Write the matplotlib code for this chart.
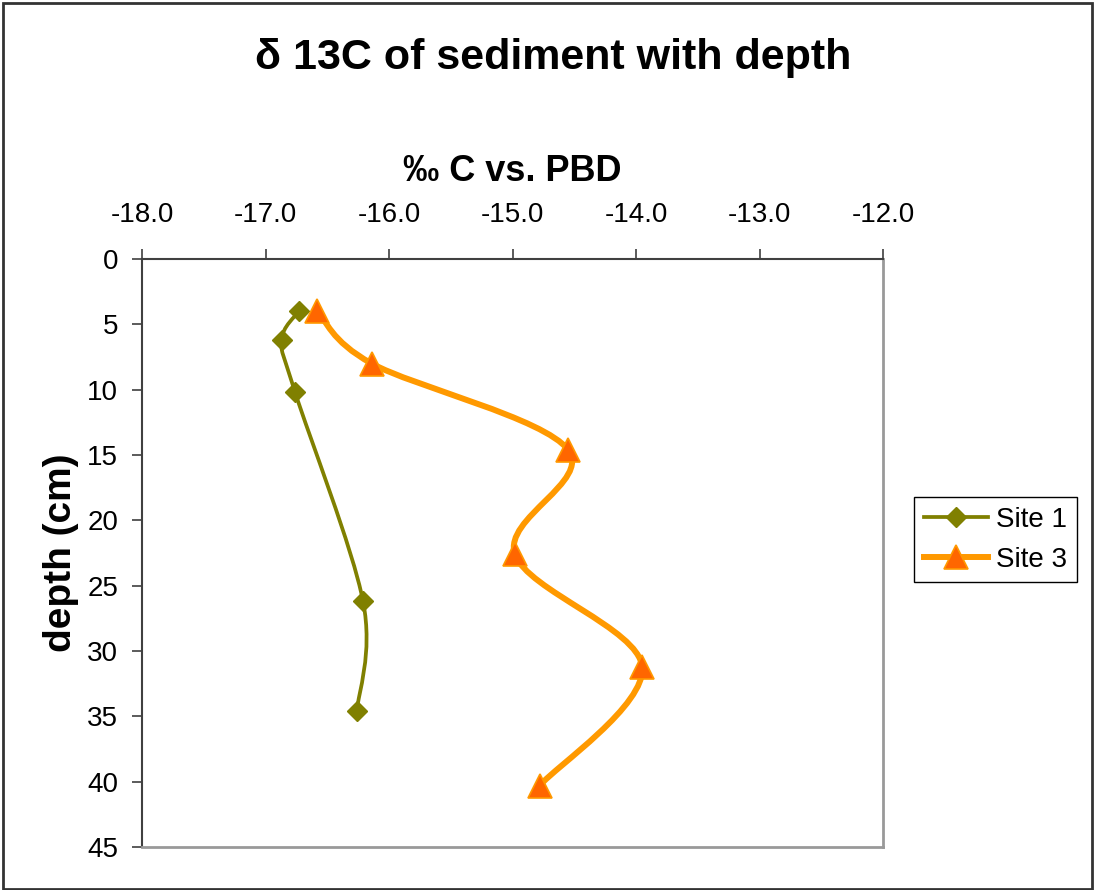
import numpy as np
import matplotlib
matplotlib.use("Agg")
import matplotlib.pyplot as plt
from matplotlib.path import Path
from matplotlib.patches import PathPatch, Rectangle
from matplotlib.lines import Line2D
from matplotlib.ticker import FormatStrFormatter, MultipleLocator

# values
depth_site1 = [4.0, 6.2, 10.2, 26.2, 34.6]
d13c_site1 = [-16.73, -16.87, -16.76, -16.21, -16.26]
depth_site3 = [4.0, 8.0, 14.6, 22.6, 31.2, 40.3]
d13c_site3 = [-16.58, -16.14, -14.55, -14.98, -13.95, -14.78]

title = "δ 13C of sediment with depth"
x_label = "‰ C vs. PBD"
y_label = "depth (cm)"

plt.rcParams['font.family'] = ['Liberation Sans', 'DejaVu Sans']
plt.rcParams['axes.unicode_minus'] = False


def smooth_path(xs, ys):
    # excel-style smoothed line: cubic bezier through the points
    pts = np.column_stack([xs, ys])
    n = len(pts)
    verts = [pts[0]]
    codes = [Path.MOVETO]
    for i in range(n - 1):
        p_prev = pts[max(i - 1, 0)]
        p0 = pts[i]
        p1 = pts[i + 1]
        p_next = pts[min(i + 2, n - 1)]
        c1 = p0 + (p1 - p_prev) / 6.0
        c2 = p1 - (p_next - p0) / 6.0
        verts += [c1, c2, p1]
        codes += [Path.CURVE4] * 3
    return Path(verts, codes)


fig = plt.figure(figsize=(10.94, 8.90), dpi=100)
ax = fig.add_axes([142 / 1094, 1 - 847 / 890, (883 - 142) / 1094, (847 - 259) / 890])

ax.set_xlim(-18, -12)
ax.set_ylim(45, 0)
ax.xaxis.set_major_locator(MultipleLocator(1))
ax.yaxis.set_major_locator(MultipleLocator(5))
ax.xaxis.set_major_formatter(FormatStrFormatter('%.1f'))
ax.xaxis.tick_top()
ax.xaxis.set_label_position('top')

olive = '#808000'
orange_line = '#FF9900'
orange_fill = '#FF6600'

ax.add_patch(PathPatch(smooth_path(d13c_site1, depth_site1), facecolor='none',
                       edgecolor=olive, lw=2.7, capstyle='round', joinstyle='round'))
ax.add_patch(PathPatch(smooth_path(d13c_site3, depth_site3), facecolor='none',
                       edgecolor=orange_line, lw=4.3, capstyle='round', joinstyle='round'))

ax.plot(d13c_site1, depth_site1, ls='none', marker='D', ms=10.5,
        mfc=olive, mec=olive, zorder=3)
ax.plot(d13c_site3, depth_site3, ls='none', marker='^', ms=17,
        mfc=orange_fill, mec=orange_line, mew=1.2, zorder=3)

for side in ['top', 'left']:
    ax.spines[side].set_color('#404040')
    ax.spines[side].set_linewidth(1.5)
for side in ['right', 'bottom']:
    ax.spines[side].set_color('#999999')
    ax.spines[side].set_linewidth(2)

ax.tick_params(axis='x', direction='out', length=7.2, width=1.2, color='#404040',
               labelsize=20, pad=15)
ax.tick_params(axis='y', direction='out', length=7.2, width=1.2, color='#404040',
               labelsize=20, pad=10)

ax.set_xlabel(x_label, fontsize=26, fontweight='bold', labelpad=15)
ax.set_ylabel(y_label, fontsize=28, fontweight='bold', labelpad=6)

fig.text(553 / 1094, 1 - 58 / 890, title, fontsize=31, fontweight='bold',
         ha='center', va='center')

handles = [
    Line2D([], [], color=olive, lw=2.7, marker='D', ms=10.5, mfc=olive, mec=olive),
    Line2D([], [], color=orange_line, lw=4.3, marker='^', ms=17,
           mfc=orange_fill, mec=orange_line, mew=1.2),
]
leg = fig.legend(handles, ['Site 1', 'Site 3'], loc='upper left',
                 bbox_to_anchor=(914 / 1094, 1 - 497 / 890), fontsize=20,
                 handlelength=2.3, handletextpad=0.3, borderpad=0.35,
                 labelspacing=0.5, borderaxespad=0, fancybox=False,
                 framealpha=1, edgecolor='black')
leg.get_frame().set_linewidth(1)

fig.patches.append(Rectangle((3 / 1094, 1 / 890), 1 - 5 / 1094, 1 - 4 / 890,
                             transform=fig.transFigure, fill=False,
                             edgecolor='#333333', lw=2))

fig.savefig('out.png', dpi=100)
